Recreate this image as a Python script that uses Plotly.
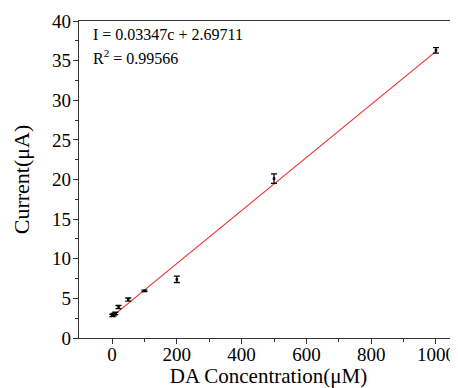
import plotly.graph_objects as go

conc = [1, 5, 10, 20, 50, 100, 200, 500, 1000]
current = [2.85, 2.95, 3.1, 3.9, 4.85, 5.95, 7.4, 20.1, 36.3]
err = [0.15, 0.15, 0.15, 0.2, 0.2, 0.1, 0.4, 0.6, 0.35]
slope = 0.03347
intercept = 2.69711
fit_x = [0, 1000]
fit_y = [slope * v + intercept for v in fit_x]

font = "Liberation Serif, Times New Roman, serif"

fig = go.Figure()
fig.add_trace(go.Scatter(x=fit_x, y=fit_y, mode="lines",
                         line=dict(color="#ee3030", width=1.2), showlegend=False))
fig.add_trace(go.Scatter(x=conc, y=current, mode="markers",
                         marker=dict(color="black", size=2.5, symbol="square"),
                         error_y=dict(type="data", array=err, color="black",
                                      thickness=1.3, width=3),
                         showlegend=False))

fig.add_annotation(x=-66, y=38.3, xref="x", yref="y", xanchor="left", yanchor="middle",
                   text="I = 0.03347c + 2.69711", showarrow=False,
                   font=dict(family=font, size=16, color="black"))
fig.add_annotation(x=-66, y=35.4, xref="x", yref="y", xanchor="left", yanchor="middle",
                   text="R<sup>2</sup> = 0.99566", showarrow=False,
                   font=dict(family=font, size=16, color="black"))

fig.update_layout(
    width=450, height=380,
    margin=dict(l=71, r=0, t=13, b=50),
    plot_bgcolor="white", paper_bgcolor="white",
    font=dict(family=font, color="black"),
    xaxis=dict(range=[-102, 1068], tickvals=[0, 200, 400, 600, 800, 1000],
               ticks="outside", ticklen=5, tickwidth=1, tickcolor="#333",
               minor=dict(tickvals=[100, 300, 500, 700, 900], ticks="outside",
                          ticklen=3, tickcolor="#333"),
               showline=True, linecolor="#333", linewidth=1.2, mirror=True,
               showgrid=False, zeroline=False, automargin=False,
               ticklabelstandoff=-6,
               tickfont=dict(size=19, family=font),
               title=dict(text="DA Concentration(\u03bcM)", font=dict(size=21, family=font),
                          standoff=10)),
    yaxis=dict(range=[0, 40], tickvals=[0, 5, 10, 15, 20, 25, 30, 35, 40],
               ticks="outside", ticklen=5, tickwidth=1, tickcolor="#333",
               minor=dict(tickvals=[2.5, 7.5, 12.5, 17.5, 22.5, 27.5, 32.5, 37.5],
                          ticks="outside", ticklen=3, tickcolor="#333"),
               showline=True, linecolor="#333", linewidth=1.2, mirror=False,
               showgrid=False, zeroline=False, automargin=False,
               ticklabelstandoff=-2,
               tickfont=dict(size=19, family=font),
               title=dict(text="Current(\u03bcA)", font=dict(size=22, family=font),
                          standoff=16)),
)

fig.write_html("out.html")
